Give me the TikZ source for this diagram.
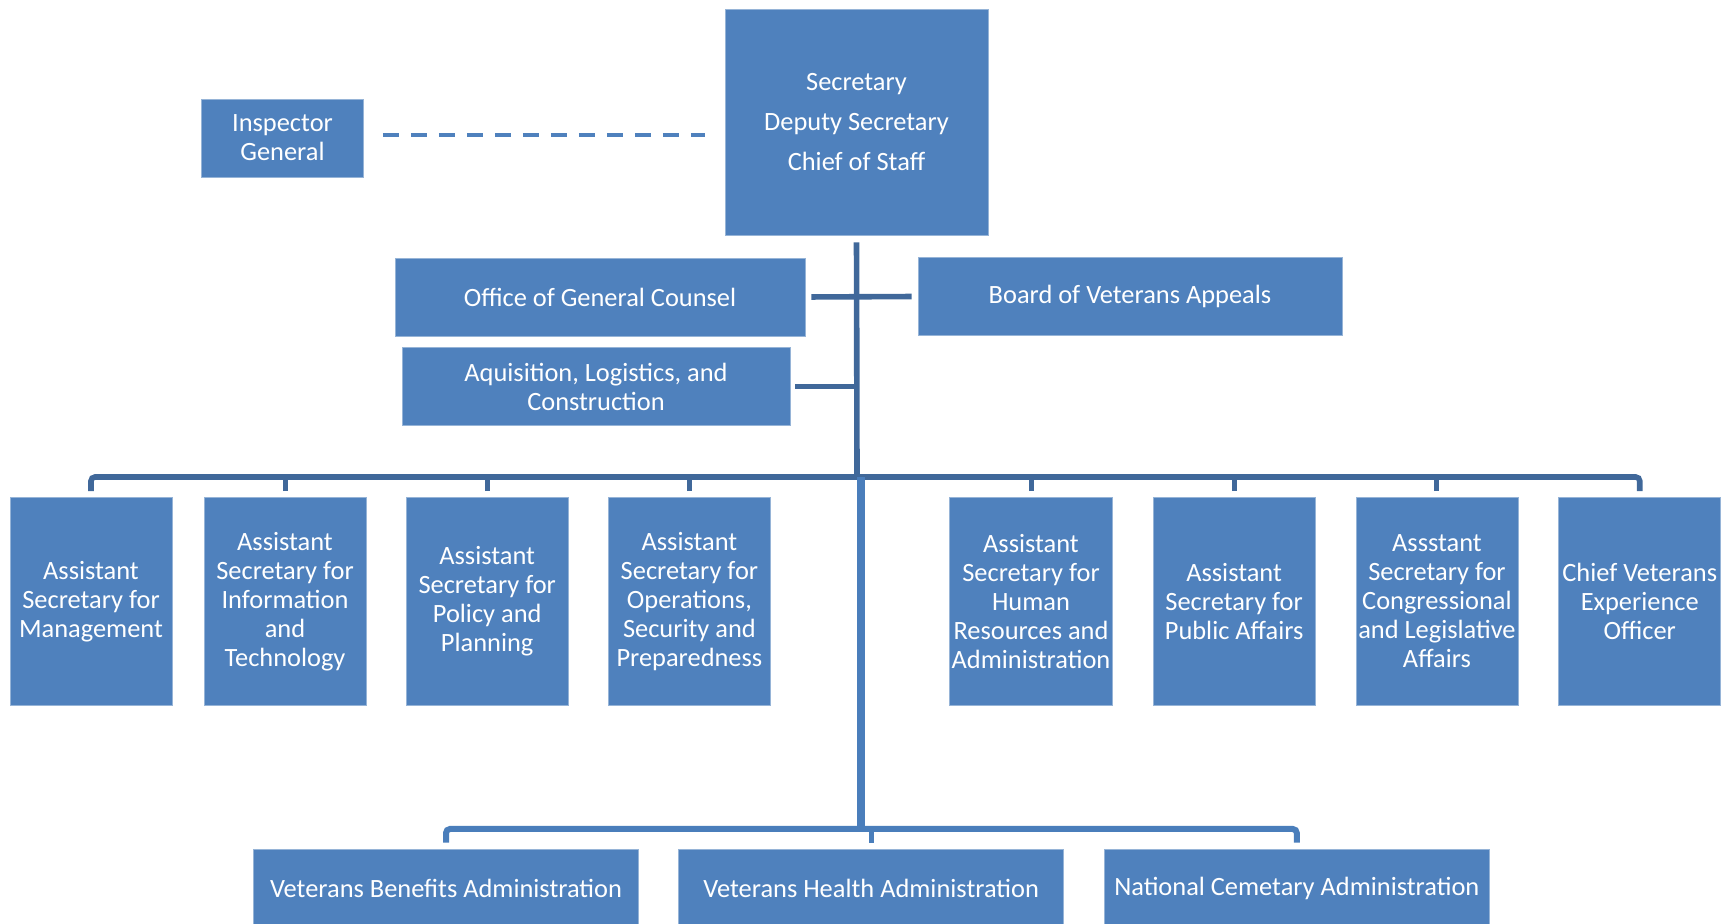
\documentclass[tikz,border=0pt]{standalone}
\usepackage{fontspec}
\setmainfont{Carlito}
\usepackage{xcolor}
\usepackage{tikz}
\usetikzlibrary{positioning,calc}
\definecolor{vablue}{RGB}{79,129,189}
\definecolor{vaedge}{RGB}{150,180,215}
\definecolor{vadark}{RGB}{64,104,154}
\definecolor{valine}{RGB}{74,126,187}

\begin{document}
\begin{tikzpicture}[
    x=0.5pt, y=-0.5pt,
    box/.style={rectangle, draw=vaedge, line width=0.3pt, fill=vablue, text=white, inner sep=1pt, align=center,
                font=\fontsize{13.2}{14.5}\selectfont},
    topbox/.style={box, minimum width=131.5pt, minimum height=113pt},
    widebox/.style={box, minimum height=39pt},
    asbox/.style={box, minimum width=81pt, minimum height=104pt},
    adminbox/.style={box, minimum width=192.5pt, minimum height=39pt},
    conn/.style={draw=vadark, line width=2.8pt},
    tick/.style={draw=vadark, line width=2.5pt},
    lowconn/.style={draw=valine, line width=3pt},
    dashline/.style={draw=vablue, line width=2pt, dash pattern=on 8pt off 6pt}
]
\useasboundingbox (0,0) rectangle (1736,924);

% Top layer
\node[topbox] (sec) at (856.5,122) {Secretary\\[5.5pt] Deputy Secretary\\[5.5pt] Chief of Staff};
\node[box, minimum width=81pt, minimum height=39pt] (ig) at (282.5,138) {Inspector\\General};

% Staff offices
\node[widebox, minimum width=205pt] (ogc) at (600,297) {Office of General Counsel};
\node[widebox, minimum width=212pt] (bva) at (1130,296.5) {Board of Veterans Appeals};
\node[widebox, minimum width=194pt] (alc) at (596,386.5) {Aquisition, Logistics, and\\Construction};

% Assistant secretaries
\node[asbox] (mgmt) at (91,601.5) {Assistant\\Secretary for\\Management};
\node[asbox, right=15.7pt of mgmt] (it) {Assistant\\Secretary for\\Information\\and\\Technology};
\node[asbox, right=19.8pt of it] (pp) {Assistant\\Secretary for\\Policy and\\Planning};
\node[asbox, right=19.8pt of pp] (ops) {Assistant\\Secretary for\\Operations,\\Security and\\Preparedness};
\node[asbox] (hr) at (1031,601.5) {Assistant\\Secretary for\\Human\\Resources and\\Administration};
\node[asbox, right=20.1pt of hr] (pa) {Assistant\\Secretary for\\Public Affairs};
\node[asbox, right=20.1pt of pa] (cla) {Assstant\\Secretary for\\Congressional\\and Legislative\\Affairs};
\node[asbox, right=20.1pt of cla] (cveo) {Chief Veterans\\Experience\\Officer};

% Administrations
\node[adminbox] (vba) at (446,888) {Veterans Benefits Administration};
\node[adminbox, right=19.8pt of vba] (vha) {Veterans Health Administration};
\node[adminbox, right=20pt of vha] (nca) {National Cemetary Administration};

% Junctions
\coordinate (hub) at (857,477);
\coordinate (hub2) at (861,829);

% Lines
\draw[dashline, shorten <=9.5pt, shorten >=10pt] ([yshift=1.5pt]ig.east) -- ([yshift=1.5pt]ig.east -| sec.west);
\draw[conn, shorten <=3.5pt] (sec.south) -- (hub);
\draw[conn, shorten <=3pt, shorten >=3pt] (ogc.east) -- (bva.west);
\draw[conn, shorten <=2.5pt] (alc.east) -- (alc.east -| hub);
\draw[conn, rounded corners=2pt] ([yshift=3pt]mgmt.north) |- (hub) -| ([yshift=3pt]cveo.north);
\foreach \n in {it,pp,ops,hr,pa,cla}
    \draw[tick] ([yshift=3pt]\n.north) -- (\n.north |- hub);
\draw[lowconn, line width=3.8pt] (hub2 |- hub) -- (hub2);
\draw[lowconn, rounded corners=2pt] ([yshift=3pt]vba.north) |- (hub2) -| ([yshift=3pt]nca.north);
\draw[lowconn, line width=2.5pt] ([yshift=3pt]vha.north) -- (vha.north |- hub2);

\end{tikzpicture}
\end{document}
